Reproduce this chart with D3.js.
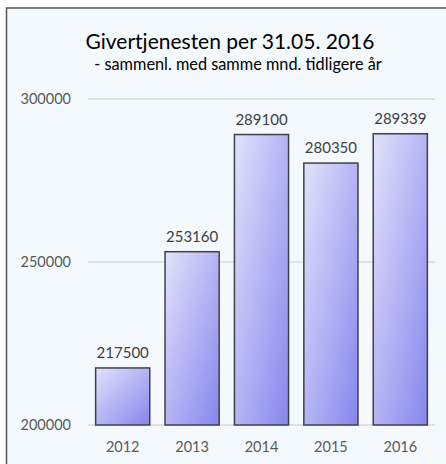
<!DOCTYPE html>
<html>
<head>
<meta charset="utf-8">
<script src="https://cdn.jsdelivr.net/npm/d3@7"></script>
<style>
body { margin: 0; background: #fff; }
text { font-family: Lato, "Open Sans", sans-serif; }
</style>
</head>
<body>
<div id="chart-area"></div>
<script>
var years = ["2012", "2013", "2014", "2015", "2016"];
var values = [217500, 253160, 289100, 280350, 289339];
var yTicks = [200000, 250000, 300000];

var width = 446, height = 464;

var svg = d3.select("#chart-area").append("svg")
	.attr("width", width)
	.attr("height", height);

var defs = svg.append("defs");
var grad = defs.append("linearGradient")
	.attr("id", "barGrad")
	.attr("x1", "0%").attr("y1", "0%")
	.attr("x2", "100%").attr("y2", "100%");
grad.append("stop").attr("offset", "0%").attr("stop-color", "#e2e2fb");
grad.append("stop").attr("offset", "100%").attr("stop-color", "#8686ee");

// panel
svg.append("rect")
	.attr("x", 6.5).attr("y", 8)
	.attr("width", width + 10).attr("height", height + 10)
	.attr("fill", "#f4f9fd")
	.attr("stroke", "#555")
	.attr("stroke-width", 1.5);

var x = d3.scaleBand()
	.domain(years)
	.range([88, 435])
	.paddingInner(0.22)
	.paddingOuter(0.11);

var y = d3.scaleLinear()
	.domain([200000, 300000])
	.range([425, 99]);

// grid
svg.selectAll("line.grid")
	.data(yTicks)
	.enter()
	.append("line")
	.attr("class", "grid")
	.attr("x1", 88).attr("x2", 435)
	.attr("y1", (d) => { return y(d); })
	.attr("y2", (d) => { return y(d); })
	.attr("stroke", "#d9d9d9")
	.attr("stroke-width", 1.5);

svg.selectAll("text.ytick")
	.data(yTicks)
	.enter()
	.append("text")
	.attr("class", "ytick")
	.attr("x", 71)
	.attr("y", (d) => { return y(d) + 5; })
	.attr("text-anchor", "end")
	.attr("font-size", 14.5)
	.attr("fill", "#595959")
	.text((d) => { return d; });

svg.selectAll("rect.bar")
	.data(values)
	.enter()
	.append("rect")
	.attr("class", "bar")
	.attr("x", (d, i) => { return x(years[i]); })
	.attr("y", (d) => { return y(d); })
	.attr("width", x.bandwidth())
	.attr("height", (d) => { return y(200000) - y(d); })
	.attr("fill", "url(#barGrad)")
	.attr("stroke", "#404048")
	.attr("stroke-width", 1.5);

svg.selectAll("text.val")
	.data(values)
	.enter()
	.append("text")
	.attr("class", "val")
	.attr("x", (d, i) => { return x(years[i]) + x.bandwidth() / 2; })
	.attr("y", (d) => { return y(d) - 10; })
	.attr("text-anchor", "middle")
	.attr("font-size", 15)
	.attr("fill", "#404040")
	.text((d) => { return d; });

svg.selectAll("text.xtick")
	.data(years)
	.enter()
	.append("text")
	.attr("class", "xtick")
	.attr("x", (d) => { return x(d) + x.bandwidth() / 2; })
	.attr("y", 452)
	.attr("text-anchor", "middle")
	.attr("font-size", 14.5)
	.attr("fill", "#595959")
	.text((d) => { return d; });

svg.append("text")
	.attr("x", 230).attr("y", 49)
	.attr("text-anchor", "middle")
	.attr("font-size", 21)
	.attr("fill", "#000")
	.text("Givertjenesten per 31.05. 2016");

svg.append("text")
	.attr("x", 238).attr("y", 70)
	.attr("text-anchor", "middle")
	.attr("font-size", 16.3)
	.attr("fill", "#000")
	.text("- sammenl. med samme mnd. tidligere år");
</script>
</body>
</html>
